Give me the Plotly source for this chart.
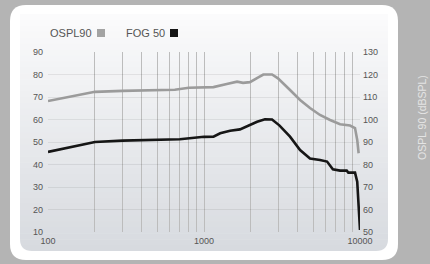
import plotly.graph_objects as go

# ---- data ----
ospl_freq = [100, 200, 300, 500, 650, 800, 1000, 1150, 1400, 1630, 1780, 1970, 2200, 2400, 2730,
             2980, 3560, 4130, 4780, 5540, 6430, 7450, 8630, 9290, 9600, 9800]
ospl_db = [108.2, 112.3, 112.7, 112.9, 113.2, 114.1, 114.3, 114.4, 115.8, 116.8, 116.3, 116.6, 118.5,
           120.0, 120.0, 118.3, 113.1, 108.7, 105.1, 102.0, 99.8, 97.9, 97.3, 96.2, 90.9, 85.0]

fog_freq = [100, 200, 300, 500, 700, 1000, 1150, 1270, 1470, 1700, 1880, 2190, 2460, 2730, 3040,
            3560, 4130, 4780, 5540, 6150, 6700, 7450, 8220, 8420, 9290, 9600, 10000]
fog_db = [45.6, 50.0, 50.6, 50.8, 51.2, 52.3, 52.4, 53.9, 55.0, 55.6, 57.1, 59.0, 60.1, 60.0, 57.4,
          52.4, 46.4, 42.7, 42.0, 41.3, 37.9, 37.3, 37.3, 36.4, 36.4, 32.4, 10.9]

x_ticks = [100, 1000, 10000]
x_ticktext = ["100", "1000", "10000"]
x_grid = [200, 300, 400, 500, 600, 700, 800, 900, 1000, 2000, 3000, 4000, 5000, 6000, 7000, 8000, 9000]
left_ticks = [10, 20, 30, 40, 50, 60, 70, 80, 90]
right_ticks = [50, 60, 70, 80, 90, 100, 110, 120, 130]

W, H = 430, 264
L, R, T, B = 48, 70, 52, 32
PW, PH = W - L - R, H - T - B


def px(x):
    return (x - L) / PW


def py(y):
    return (H - B - y) / PH


def rounded(x0, y0, x1, y1, r):
    rx = r / PW
    ry = r / PH
    a, b, c, d = px(x0), py(y0), px(x1), py(y1)  # b top, d bottom
    return (f"M {a+rx},{b} L {c-rx},{b} Q {c},{b} {c},{b-ry} L {c},{d+ry} Q {c},{d} {c-rx},{d} "
            f"L {a+rx},{d} Q {a},{d} {a},{d+ry} L {a},{b-ry} Q {a},{b} {a+rx},{b} Z")


shapes = []
# white outer panel
shapes.append(dict(type="path", xref="paper", yref="paper", path=rounded(10, 5, 398, 260, 16),
                   fillcolor="#ffffff", line=dict(width=0), layer="below"))
# inner gradient bands
top_c = (251, 251, 252)
bot_c = (215, 218, 223)
y_top, y_bot = 14, 251
n = 40
for i in range(n):
    t = (i + 0.5) / n
    col = tuple(round(top_c[k] + (bot_c[k] - top_c[k]) * t) for k in range(3))
    ya = y_top + (y_bot - y_top) * i / n
    yb = y_top + (y_bot - y_top) * (i + 1) / n + 0.6
    shapes.append(dict(type="rect", xref="paper", yref="paper", x0=px(20), x1=px(388),
                       y0=py(min(yb, y_bot)), y1=py(ya), fillcolor=f"rgb{col}",
                       line=dict(width=0), layer="below"))
# corner masks (white) for bottom rounded corners
r = 12
for (cx, sx) in [(20, 1), (388, -1)]:
    cy = y_bot
    p = (f"M {px(cx)},{py(cy - r)} L {px(cx)},{py(cy)} L {px(cx + sx * r)},{py(cy)} "
         f"Q {px(cx)},{py(cy)} {px(cx)},{py(cy - r)} Z")
    shapes.append(dict(type="path", xref="paper", yref="paper", path=p, fillcolor="#ffffff",
                       line=dict(width=0), layer="below"))
# legend squares
shapes.append(dict(type="rect", xref="paper", yref="paper", x0=px(97), x1=px(105), y0=py(37), y1=py(29),
                   fillcolor="#a3a3a3", line=dict(width=0)))
shapes.append(dict(type="rect", xref="paper", yref="paper", x0=px(170), x1=px(178), y0=py(37), y1=py(29),
                   fillcolor="#151515", line=dict(width=0)))

fig = go.Figure()
fig.add_trace(go.Scatter(x=ospl_freq, y=ospl_db, mode="lines", name="OSPL90", yaxis="y2",
                         line=dict(color="#9b9b9b", width=2.6)))
fig.add_trace(go.Scatter(x=fog_freq, y=fog_db, mode="lines", name="FOG 50",
                         line=dict(color="#161616", width=2.6)))

tickfont = dict(family="Liberation Sans, Arial, sans-serif", size=9, color="#555555")
fig.update_layout(
    width=W, height=H, margin=dict(l=L, r=R, t=T, b=B, autoexpand=False),
    paper_bgcolor="#b4b4b4", plot_bgcolor="rgba(0,0,0,0)",
    showlegend=False,
    shapes=shapes,
    xaxis=dict(type="log", range=[2, 4], tickvals=x_ticks, ticktext=x_ticktext, showgrid=False,
               zeroline=False, showline=False, ticks="", tickfont=tickfont, ticklabelstandoff=2,
               automargin=False,
               minor=dict(tickvals=x_grid, showgrid=True, gridcolor="#bcbcbc", gridwidth=1, ticks="")),
    yaxis=dict(range=[10, 90], tickvals=left_ticks, showgrid=True, gridcolor="rgba(0,0,0,0.07)",
               zeroline=False, showline=False, ticks="", tickfont=tickfont, ticklabelstandoff=4,
               automargin=False),
    yaxis2=dict(range=[50, 130], tickvals=right_ticks, overlaying="y", side="right", showgrid=False,
                zeroline=False, showline=False, ticks="", tickfont=tickfont, ticklabelstandoff=2,
                automargin=False),
    annotations=[
        dict(text="OSPL90", xref="paper", yref="paper", x=px(48), y=py(33), xanchor="left",
             yanchor="middle", showarrow=False,
             font=dict(family="Liberation Sans, Arial, sans-serif", size=11, color="#555555")),
        dict(text="FOG 50", xref="paper", yref="paper", x=px(124), y=py(33), xanchor="left",
             yanchor="middle", showarrow=False,
             font=dict(family="Liberation Sans, Arial, sans-serif", size=11, color="#555555")),
        dict(text="OSPL 90 (dBSPL)", xref="paper", yref="paper", x=px(422), y=py(118), xanchor="center",
             yanchor="middle", textangle=-90, showarrow=False,
             font=dict(family="Liberation Sans, Arial, sans-serif", size=10.5, color="#e4e4e4")),
    ],
)

fig.write_html("out.html", config={"displayModeBar": False},
               post_script="document.body.style.margin='0';document.body.style.overflow='hidden';")
